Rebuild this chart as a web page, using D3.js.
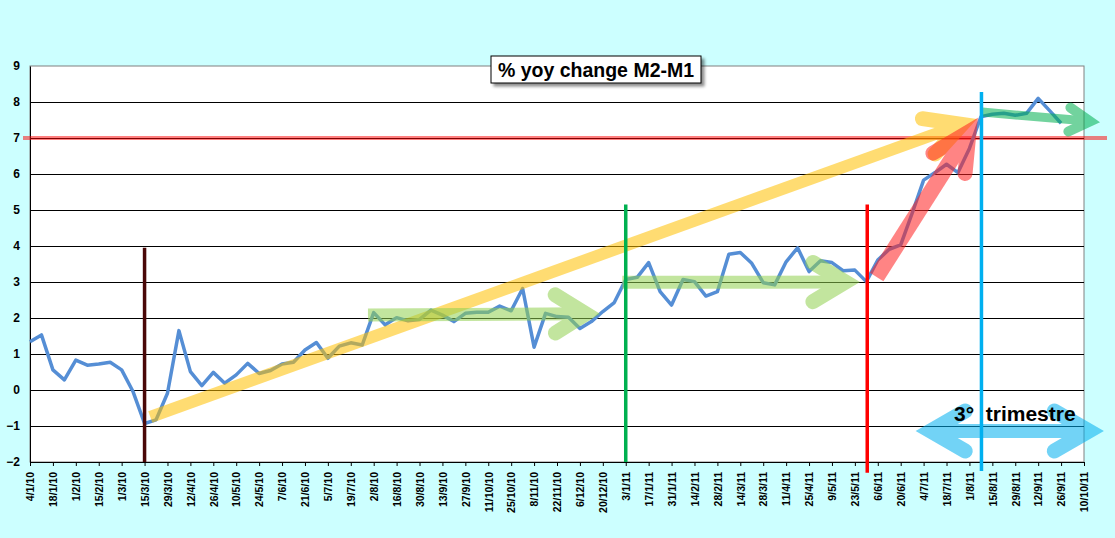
<!DOCTYPE html>
<html>
<head>
<meta charset="utf-8">
<script src="https://cdn.jsdelivr.net/npm/d3@7"></script>
<style>
  html, body { margin:0; padding:0; background:#ccffff; }
  svg { display:block; }
  .lbl { font-family: Arial, "Liberation Sans", sans-serif; font-weight:bold; fill:#000; }
</style>
</head>
<body>
<div class="main__area"></div>
<script>
// x tick labels, one every two weeks
const xLabels=["4/1/10","18/1/10","1/2/10","15/2/10","1/3/10","15/3/10","29/3/10","12/4/10","26/4/10","10/5/10",
    "24/5/10","7/6/10","21/6/10","5/7/10","19/7/10","2/8/10","16/8/10","30/8/10","13/9/10","27/9/10",
    "11/10/10","25/10/10","8/11/10","22/11/10","6/12/10","20/12/10","3/1/11","17/1/11","31/1/11","14/2/11",
    "28/2/11","14/3/11","28/3/11","11/4/11","25/4/11","9/5/11","23/5/11","6/6/11","20/6/11","4/7/11",
    "18/7/11","1/8/11","15/8/11","29/8/11","12/9/11","26/9/11","10/10/11"];
const yTicks=[-2,-1,0,1,2,3,4,5,6,7,8,9];

// weekly % yoy change M2-M1, from 4/1/10 to 26/9/11
const yoyChange=[
    1.34,1.53,0.56,0.28,0.83,0.69,0.72,0.77,0.56,-0.05,
    -0.93,-0.83,-0.09,1.65,0.51,0.12,0.49,0.19,0.42,0.74,
    0.46,0.54,0.72,0.77,1.11,1.32,0.88,1.22,1.31,1.25,
    2.15,1.81,2.01,1.92,1.96,2.22,2.08,1.90,2.13,2.16,
    2.16,2.33,2.20,2.82,1.19,2.13,2.04,2.02,1.71,1.90,
    2.18,2.43,3.07,3.13,3.54,2.73,2.36,3.07,3.01,2.61,
    2.73,3.77,3.82,3.52,2.98,2.92,3.56,3.95,3.29,3.59,
    3.54,3.31,3.33,3.01,3.61,3.91,4.03,4.91,5.83,6.04,
    6.27,6.04,6.71,7.59,7.66,7.69,7.63,7.69,8.10,7.76,
    7.41
];

// vertical markers (week index, from value, to value)
const markers=[
    { at:10, from:-2, to:3.95, color:"#4a0808" },
    { at:52, from:-2, to:5.15, color:"#00b050" },
    { at:73.08, from:-2.3, to:5.15, color:"#ff0000" },
    { at:83.05, from:-2.25, to:8.28, color:"#00b0f0" }
];
const threshold=7;

// drawn arrows, ends in (week index, value)
const arrows=[
    { x1:10.5, y1:-0.75, x2:82.66, y2:7.53, color:"#ffc000", w:12, hw:15, L:40, th:28, both:false },
    { x1:29.5, y1:2.08, x2:49.75, y2:2.12, color:"#92d050", w:13, hw:15, L:36, th:32, both:false },
    { x1:51.7, y1:2.99, x2:72.45, y2:3.0, color:"#92d050", w:13, hw:15, L:38, th:31, both:false },
    { x1:73.9, y1:3.14, x2:82.74, y2:7.56, color:"#ff2020", w:16, hw:15, L:42, th:27, both:false },
    { x1:83.1, y1:7.72, x2:93.4, y2:7.44, color:"#00b050", w:9, hw:10, L:24, th:30, both:false },
    { x1:77.3, y1:-1.14, x2:93.74, y2:-1.14, color:"#00b0f0", w:14, hw:15, L:40, th:30, both:true }
];

const width=1115;
const height=538;
const plot={ left:30, right:1084, top:66, bottom:462 };

const svg=d3.select(".main__area").append("svg")
    .attr("width", width).attr("height", height);

const x=d3.scaleLinear().domain([0, (xLabels.length-1)*2]).range([plot.left, plot.right]);
const y=d3.scaleLinear().domain([-2, 9]).range([plot.bottom, plot.top]);

const defs=svg.append("defs");
defs.append("filter").attr("id","shadow").attr("x","-10%").attr("y","-20%").attr("width","130%").attr("height","160%")
    .append("feDropShadow").attr("dx",3).attr("dy",3).attr("stdDeviation",1.6)
    .attr("flood-color","#000").attr("flood-opacity",0.45);

// plot area
svg.append("rect")
    .attr("x", plot.left).attr("y", plot.top)
    .attr("width", plot.right-plot.left).attr("height", plot.bottom-plot.top)
    .attr("fill","#fff").attr("stroke","#808080");

// horizontal gridlines
svg.append("g").selectAll("line")
    .data(yTicks.filter(d => d>-2 && d<9))
    .join("line")
    .attr("x1", plot.left).attr("x2", plot.right)
    .attr("y1", d => y(d)).attr("y2", d => y(d))
    .attr("stroke","#000").attr("stroke-width",1).attr("shape-rendering","crispEdges");

// y axis
const yAxis=svg.append("g").attr("transform", `translate(${plot.left},0)`)
    .call(d3.axisLeft(y).tickValues(yTicks).tickSize(0).tickPadding(10).tickFormat(d3.format("d")));
yAxis.select(".domain").attr("stroke","#000");
yAxis.selectAll("text").attr("class","lbl").style("font-size","12px");

// x axis
const xAxis=svg.append("g").attr("transform", `translate(0,${plot.bottom})`)
    .call(d3.axisBottom(x).tickValues(d3.range(0, xLabels.length*2, 2))
        .tickSize(4).tickSizeOuter(0).tickFormat((d, i) => xLabels[i]));
xAxis.select(".domain").attr("stroke","#000");
xAxis.selectAll(".tick line").attr("stroke","#000");
xAxis.selectAll("text")
    .attr("class","lbl").style("font-size","10.5px")
    .attr("text-anchor","end")
    .attr("transform","rotate(-90)")
    .attr("x",-10).attr("y",0).attr("dy","0.36em");

// red threshold line
svg.append("line")
    .attr("x1", plot.left-7).attr("x2", plot.right+23)
    .attr("y1", y(threshold)).attr("y2", y(threshold))
    .attr("stroke","#ff0000").attr("stroke-opacity",0.5).attr("stroke-width",4);

// series
const line=d3.line().x((d, i) => x(i)).y(d => y(d));
svg.append("path")
    .datum(yoyChange)
    .attr("d", line)
    .attr("fill","none")
    .attr("stroke","#558ed5")
    .attr("stroke-width",3.5)
    .attr("stroke-linejoin","round");

// arrows
function drawArrow(a) {
    const p1=[x(a.x1), y(a.y1)];
    const p2=[x(a.x2), y(a.y2)];
    const g=svg.append("g").attr("opacity",0.55);
    const th=a.th*Math.PI/180;
    const inset=a.hw/(2*Math.sin(th));

    function head(tip, from) {
        const ang=Math.atan2(from[1]-tip[1], from[0]-tip[0]);
        const v=[tip[0]+inset*Math.cos(ang), tip[1]+inset*Math.sin(ang)];
        const w1=[v[0]+a.L*Math.cos(ang+th), v[1]+a.L*Math.sin(ang+th)];
        const w2=[v[0]+a.L*Math.cos(ang-th), v[1]+a.L*Math.sin(ang-th)];
        g.append("path")
            .attr("d", `M${w1}L${v}L${w2}`)
            .attr("fill","none").attr("stroke",a.color)
            .attr("stroke-width",a.hw)
            .attr("stroke-linecap","round").attr("stroke-linejoin","miter");
        return v;
    }
    const e=head(p2, p1);
    const s=a.both ? head(p1, p2) : p1;
    g.append("line")
        .attr("x1", s[0]).attr("y1", s[1]).attr("x2", e[0]).attr("y2", e[1])
        .attr("stroke",a.color).attr("stroke-width",a.w);
}
arrows.forEach(drawArrow);

// vertical markers
svg.append("g").selectAll("line")
    .data(markers)
    .join("line")
    .attr("x1", d => x(d.at)).attr("x2", d => x(d.at))
    .attr("y1", d => y(d.from)).attr("y2", d => y(d.to))
    .attr("stroke", d => d.color).attr("stroke-width",3.5);

// title box
const titleG=svg.append("g");
titleG.append("rect")
    .attr("x",491).attr("y",56).attr("width",210).attr("height",27)
    .attr("fill","#fff").attr("stroke","#000").attr("filter","url(#shadow)");
titleG.append("text")
    .attr("class","lbl")
    .attr("x",596).attr("y",77)
    .attr("text-anchor","middle")
    .style("font-size","19.5px")
    .text("% yoy change M2-M1");

// 3° trimestre
svg.append("text")
    .attr("class","lbl")
    .attr("x",954).attr("y",421)
    .style("font-size","21px")
    .style("white-space","pre")
    .text("3°  trimestre");
</script>
</body>
</html>
